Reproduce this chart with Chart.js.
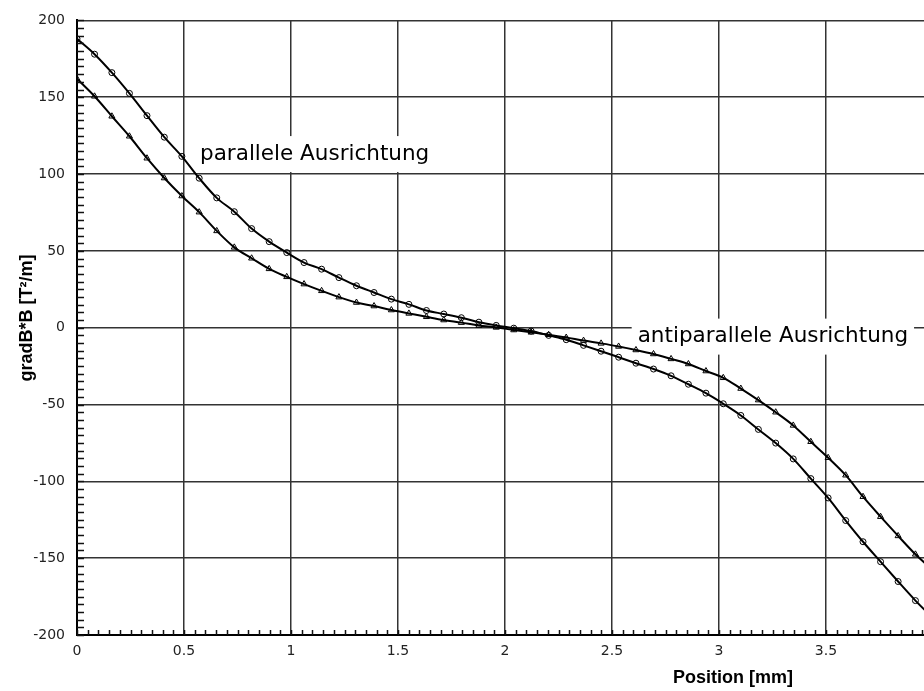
<!DOCTYPE html>
<html>
<head>
<meta charset="utf-8">
<script src="https://cdn.jsdelivr.net/npm/chart.js@4"></script>
<style>
  html, body { margin: 0; padding: 0; background: #fff; overflow: hidden; }
  #wrap { width: 924px; height: 691px; overflow: hidden; }
</style>
</head>
<body>
<div id="wrap"><canvas id="chart" width="950" height="691"></canvas></div>
<script>
// Position [mm], one measurement every 4/49 mm
const positions = [0, 0.082, 0.163, 0.245, 0.327, 0.408, 0.490, 0.571, 0.653, 0.735,
  0.816, 0.898, 0.980, 1.061, 1.143, 1.224, 1.306, 1.388, 1.469, 1.551,
  1.633, 1.714, 1.796, 1.878, 1.959, 2.041, 2.122, 2.204, 2.286, 2.367,
  2.449, 2.531, 2.612, 2.694, 2.776, 2.857, 2.939, 3.020, 3.102, 3.184,
  3.265, 3.347, 3.429, 3.510, 3.592, 3.673, 3.755, 3.837, 3.918, 4.0];

// gradB*B, circles
const circleValues = [188, 178, 166, 152.5, 138, 124, 111.5, 97.3, 84.5, 75.5,
  64.5, 56, 48.9, 42.4, 38.1, 32.6, 27.3, 22.9, 18.6, 15.2,
  11.2, 8.9, 6.5, 3.6, 1.5, -0.3, -2.2, -5.0, -7.8, -11.5,
  -15.3, -19.2, -23.1, -26.9, -31.3, -36.8, -42.6, -49.5, -57.1, -66.2,
  -75.1, -85.4, -98.2, -110.8, -125.5, -139.3, -152.3, -165.2, -177.6, -189];

// gradB*B, triangles
const triangleValues = [162, 150.6, 137.6, 124.6, 110.3, 97.4, 85.7, 75.2, 63, 52.3,
  45.2, 38.3, 33.1, 28.4, 24, 19.9, 16.4, 14.1, 11.5, 9.3,
  7.1, 5.0, 3.3, 1.4, 0.2, -1.5, -3.0, -4.6, -6.4, -8.4,
  -10.2, -12.2, -14.5, -17.1, -20.3, -23.6, -28.2, -32.6, -39.6, -47.1,
  -55, -63.6, -74.2, -84.6, -96, -110, -123, -135.5, -147.5, -158];

const xTicks = [0, 0.5, 1, 1.5, 2, 2.5, 3, 3.5, 4];
const yTicks = [-200, -150, -100, -50, 0, 50, 100, 150, 200];

const labelTexts = ['parallele Ausrichtung', 'antiparallele Ausrichtung'];
const labelX = [0.575, 2.62];
const labelY = [113, -5.8];

const toPoints = vals => vals.map((v, i) => ({ x: positions[i], y: v }));

const extras = {
  id: 'extras',
  beforeDatasetsDraw(chart) {
    // curve labels on white boxes, under the curves
    const { ctx, scales: { x, y } } = chart;
    ctx.save();
    ctx.font = '21.5px "DejaVu Sans"';
    ctx.textBaseline = 'middle';
    labelTexts.forEach((t, i) => {
      const px = x.getPixelForValue(labelX[i]);
      const py = y.getPixelForValue(labelY[i]);
      const w = ctx.measureText(t).width;
      ctx.fillStyle = '#fff';
      ctx.fillRect(px - 6, py - 18, w + 12, 36);
      ctx.fillStyle = '#000';
      ctx.fillText(t, px, py);
    });
    ctx.restore();
  },
  afterDraw(chart) {
    const { ctx, scales: { x, y } } = chart;
    ctx.save();
    ctx.strokeStyle = '#111';
    ctx.lineWidth = 1.5;
    ctx.beginPath();
    for (let i = 0; i <= 80; i++) {
      const px = Math.round(x.getPixelForValue(i * 0.05)) + 0.5;
      ctx.moveTo(px, y.bottom);
      ctx.lineTo(px, y.bottom - 5);
    }
    for (let i = 0; i <= 80; i++) {
      const py = Math.round(y.getPixelForValue(-200 + i * 5)) + 0.5;
      ctx.moveTo(x.left, py);
      ctx.lineTo(x.left + 7, py);
    }
    ctx.stroke();

    // axis titles
    ctx.fillStyle = '#000';
    ctx.font = 'bold 18px "Liberation Sans"';
    ctx.textAlign = 'center';
    ctx.textBaseline = 'middle';
    ctx.fillText('Position [mm]', 733, 678);
    ctx.translate(27, 318);
    ctx.rotate(-Math.PI / 2);
    ctx.fillText('gradB*B [T²/m]', 0, 0);
    ctx.restore();
  }
};

new Chart(document.getElementById('chart'), {
  type: 'line',
  data: {
    datasets: [
      {
        label: 'parallel',
        data: toPoints(circleValues),
        borderColor: '#000',
        borderWidth: 2,
        pointStyle: 'circle',
        pointRadius: 3,
        pointBorderWidth: 1,
        pointBorderColor: '#000',
        pointBackgroundColor: 'rgba(255,255,255,0)',
        cubicInterpolationMode: 'monotone'
      },
      {
        label: 'antiparallel',
        data: toPoints(triangleValues),
        borderColor: '#000',
        borderWidth: 2,
        pointStyle: 'triangle',
        pointRadius: 3.5,
        pointBorderWidth: 1,
        pointBorderColor: '#000',
        pointBackgroundColor: 'rgba(255,255,255,0)',
        cubicInterpolationMode: 'monotone'
      }
    ]
  },
  options: {
    responsive: false,
    animation: false,
    layout: { padding: { left: 0, right: 17, top: 19, bottom: 0 } },
    plugins: { legend: { display: false }, tooltip: { enabled: false } },
    scales: {
      x: {
        type: 'linear',
        min: 0,
        max: 4,
        afterFit: s => { s.height = 56; },
        afterBuildTicks: s => { s.ticks = xTicks.map(v => ({ value: v })); },
        grid: { color: '#333', lineWidth: 1.5, drawTicks: false },
        border: { color: '#000', width: 2 },
        ticks: {
          color: '#222', padding: 8, font: { family: 'DejaVu Sans', size: 14 },
          callback: v => String(v)
        }
      },
      y: {
        min: -200,
        max: 200,
        afterFit: s => { s.width = 77; },
        afterBuildTicks: s => { s.ticks = yTicks.map(v => ({ value: v })); },
        grid: { color: '#333', lineWidth: 1.5, drawTicks: false },
        border: { color: '#000', width: 2 },
        ticks: {
          color: '#222', padding: 12, font: { family: 'DejaVu Sans', size: 14 },
          callback: v => String(v)
        }
      }
    }
  },
  plugins: [extras]
});
</script>
</body>
</html>
